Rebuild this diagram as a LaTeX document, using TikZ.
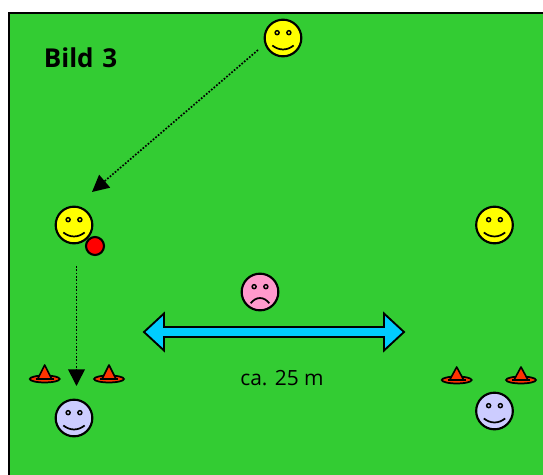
\documentclass[tikz,border=0pt]{standalone}
\usepackage{fontspec}
\setmainfont{Open Sans}
\usetikzlibrary{arrows.meta}
\definecolor{field}{RGB}{51,204,51}
\definecolor{sunny}{RGB}{255,255,0}
\definecolor{lilac}{RGB}{204,204,255}
\definecolor{rosy}{RGB}{255,153,204}
\definecolor{conered}{RGB}{255,51,0}
\definecolor{skyarrow}{RGB}{0,204,255}
\tikzset{
  x=0.75pt, y=-0.75pt,
  face/.style={circle,draw=black,line width=1.6pt,minimum size=27.5pt,inner sep=0pt},
  ball/.style={circle,draw=black,line width=1.6pt,fill=red,minimum size=13.5pt,inner sep=0pt},
  pass/.style={draw=black,line width=1.25pt,dash pattern=on 1.25pt off 1.25pt,-{Triangle[length=12.5pt,width=12.5pt,fill=black]}},
  label/.style={inner sep=0pt,text=black}
}
\newcommand{\facefeatures}[2]{%
  \draw[line width=1.1pt] ([xshift=-4.4pt,yshift=4pt]#1.center) circle (1.5pt);
  \draw[line width=1.1pt] ([xshift=4.4pt,yshift=4pt]#1.center) circle (1.5pt);
  \ifnum#2=1
    \draw[line width=1.3pt] ([xshift=-8pt,yshift=-5.6pt]#1.center) .. controls ([xshift=-3pt,yshift=-9.6pt]#1.center) and ([xshift=3pt,yshift=-9.6pt]#1.center) .. ([xshift=8pt,yshift=-5.6pt]#1.center);
  \else
    \draw[line width=1.3pt] ([xshift=-7pt,yshift=-8.5pt]#1.center) .. controls ([xshift=-3pt,yshift=-3.2pt]#1.center) and ([xshift=3pt,yshift=-3.2pt]#1.center) .. ([xshift=7pt,yshift=-8.5pt]#1.center);
  \fi}
\newcommand{\cone}[3]{%
  \fill[conered,draw=black,line width=1.3pt] (#1,#2) ellipse (11.2pt and 2.6pt);
  \draw[line width=1.3pt] (#1-9,#2) -- (#1+9,#2);
  \fill[conered,draw=black,line width=1.2pt,line join=round] (#1-7,#2) -- (#1,#3) -- (#1+7,#2) -- cycle;}
\begin{document}
\begin{tikzpicture}
\useasboundingbox (0,0) rectangle (543,475);
\fill[white] (0,0) rectangle (543,475);
\fill[field] (9,13) rectangle (543,475);
\draw[black,line width=1.5pt] (9,475) -- (9,13) -- (543,13);
\node[label,font=\fontsize{19.5}{21}\selectfont\bfseries] (title) at (80.5,58) {Bild\,\,3};
\node[face,fill=sunny] (top) at (283,38) {};
\node[face,fill=sunny] (catcher) at (74,225) {};
\node[face,fill=sunny] (right) at (494.5,225) {};
\node[face,fill=rosy] (middle) at (260,292) {};
\node[face,fill=lilac] (bluel) at (74,418) {};
\node[face,fill=lilac] (bluer) at (494.5,411) {};
\node[ball] (redball) at (95,246) {};
\facefeatures{top}{1}
\facefeatures{catcher}{1}
\facefeatures{right}{1}
\facefeatures{bluel}{1}
\facefeatures{bluer}{1}
\facefeatures{middle}{0}
\coordinate (p1s) at (258,50);
\coordinate (p1e) at (92,192);
\coordinate (p2s) at (76.5,266);
\coordinate (p2e) at (76.5,386);
\draw[pass] (p1s) -- (p1e);
\draw[pass] (p2s) -- (p2e);
\cone{44.7}{379}{365}
\cone{109}{379}{365}
\cone{456.7}{380}{367}
\cone{521}{380}{367}
\draw[fill=skyarrow,line width=1.4pt,line join=miter] (144,332) -- (164,313.5) -- (164,327) -- (384,327) -- (384,313.5) -- (404,332) -- (384,350.5) -- (384,337) -- (164,337) -- (164,350.5) -- cycle;
\node[label,font=\fontsize{15.7}{17}\selectfont] (dist) at (282,378) {ca. 25 m};
\end{tikzpicture}
\end{document}
